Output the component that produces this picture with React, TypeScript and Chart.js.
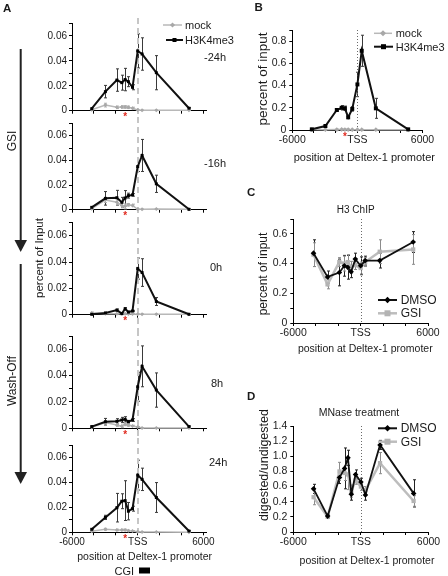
import React, { useEffect, useRef } from 'react';
import { Chart, registerables } from 'chart.js';

Chart.register(...registerables);

const FONT = '"Liberation Sans", Arial, Helvetica, sans-serif';
const TEXT = '#1a1a1a';

// ---------- data ----------
// primer positions relative to the Deltex-1 TSS (bp)
const POSITIONS = [-4200, -2950, -1900, -1450, -1150, -850, -475, 0, 400, 1700, 4680];
const TSS_POS = 0;
const ASTERISK_POS = -1150;
const X_TICKS = [-6000, -4000, -2000, 0, 2000, 4000, 6000];
const X_LABELED = [-6000, 0, 6000];
const X_LABEL_TEXT = ['-6000', 'TSS', '6000'];
const TIMEPOINTS = ['-24h', '-16h', '0h', '8h', '24h'];

// Panel A: H3K4me3 ChIP (percent of input)
const K4_M24 = [0.0016, 0.0153, 0.0246, 0.0225, 0.025, 0.0233, 0.0188, 0.048, 0.0455, 0.0305, 0.002];
const K4_M24_ERR = [0.0005, 0.005, 0.009, 0.006, 0.009, 0.004, 0.002, 0.0137, 0.013, 0.0137, 0.0005];
const MOCK_M24 = [0.0008, 0.0045, 0.0027, 0.003, 0.003, 0.0027, 0.002, 0.0005, 0.0003, 0.0003, 0.0003];
const MOCK_M24_ERR = [0.0003, 0.0015, 0.001, 0.001, 0.001, 0.001, 0.0008, 0.0002, 0.0002, 0.0002, 0.0002];

const K4_M16 = [0.0019, 0.0092, 0.0097, 0.006, 0.0095, 0.0114, 0.012, 0.035, 0.044, 0.021, 0.0003];
const K4_M16_ERR = [0.0005, 0.0055, 0.006, 0.004, 0.006, 0.002, 0.001, 0.004, 0.013, 0.007, 0.0003];
const MOCK_M16 = [0.0008, 0.0078, 0.006, 0.0035, 0.0027, 0.004, 0.0035, 0.0003, 0.0003, 0.0005, 0.0003];
const MOCK_M16_ERR = [0.0003, 0.002, 0.002, 0.002, 0.002, 0.001, 0.001, 0.0002, 0.0002, 0.0002, 0.0002];

const K4_0H = [0.0003, 0.0013, 0.0035, 0.0008, 0.0045, 0.002, 0.0028, 0.035, 0.032, 0.01, 0.0003];
const K4_0H_ERR = [0.0003, 0.0005, 0.0008, 0.0005, 0.0008, 0.0005, 0.0005, 0.008, 0.0105, 0.003, 0.0002];
const MOCK_0H = [0.0012, 0.0008, 0.0008, 0.0008, 0.0008, 0.0006, 0.0006, 0.0004, 0.0004, 0.0004, 0.0003];
const MOCK_0H_ERR = [0.0008, 0.0003, 0.0003, 0.0003, 0.0003, 0.0003, 0.0003, 0.0002, 0.0002, 0.0002, 0.0002];

const K4_8H = [0.0013, 0.005, 0.0053, 0.0063, 0.0068, 0.005, 0.0063, 0.0315, 0.047, 0.029, 0.0013];
const K4_8H_ERR = [0.0004, 0.0025, 0.002, 0.002, 0.002, 0.001, 0.001, 0.011, 0.0155, 0.013, 0.0004];
const MOCK_8H = [0.0008, 0.0043, 0.0025, 0.0015, 0.003, 0.0025, 0.0018, 0.001, 0.0003, 0.0003, 0.0003];
const MOCK_8H_ERR = [0.0003, 0.001, 0.001, 0.001, 0.001, 0.001, 0.0005, 0.0003, 0.0002, 0.0002, 0.0002];

const K4_24H = [0.0024, 0.012, 0.0198, 0.025, 0.0255, 0.017, 0.019, 0.046, 0.0426, 0.028, 0.001];
const K4_24H_ERR = [0.0005, 0.0017, 0.0115, 0.006, 0.016, 0.007, 0.002, 0.012, 0.009, 0.012, 0.0003];
const MOCK_24H = [0.0008, 0.0024, 0.0019, 0.0019, 0.0019, 0.0013, 0.001, 0.0005, 0.0003, 0.0003, 0.0001];
const MOCK_24H_ERR = [0.0003, 0.0008, 0.0006, 0.0006, 0.0006, 0.0005, 0.0004, 0.0002, 0.0002, 0.0002, 0.0001];

// Panel B
const K4_B = [0.006, 0.036, 0.18, 0.2, 0.195, 0.114, 0.19, 0.41, 0.713, 0.195, 0.006];
const K4_B_ERR = [0.003, 0.005, 0.01, 0.02, 0.02, 0.01, 0.02, 0.11, 0.14, 0.09, 0.003];
const MOCK_B = [0.004, 0.003, 0.004, 0.005, 0.004, 0.004, 0.003, 0.003, 0.003, 0.003, 0.002];
const MOCK_B_ERR = [0.003, 0.003, 0.003, 0.003, 0.003, 0.003, 0.003, 0.003, 0.003, 0.003, 0.002];

// Panel C: H3 ChIP
const H3_DMSO = [0.47, 0.31, 0.34, 0.385, 0.375, 0.345, 0.43, 0.385, 0.42, 0.42, 0.545];
const H3_DMSO_ERR = [0.09, 0.04, 0.09, 0.07, 0.08, 0.04, 0.04, 0.06, 0.03, 0.05, 0.07];
const H3_GSI = [0.46, 0.26, 0.41, 0.4, 0.41, 0.375, 0.39, 0.37, 0.41, 0.48, 0.495];
const H3_GSI_ERR = [0.08, 0.03, 0.03, 0.05, 0.05, 0.04, 0.03, 0.04, 0.03, 0.08, 0.1];

// Panel D: MNase
const MN_DMSO = [0.57, 0.21, 0.72, 0.84, 0.98, 0.5, 0.76, 0.66, 0.49, 1.15, 0.51];
const MN_DMSO_ERR = [0.06, 0.02, 0.08, 0.27, 0.1, 0.08, 0.06, 0.05, 0.07, 0.06, 0.18];
const MN_GSI = [0.46, 0.2, 0.8, 0.78, 0.76, 0.54, 0.68, 0.6, 0.55, 0.91, 0.41];
const MN_GSI_ERR = [0.1, 0.02, 0.12, 0.1, 0.2, 0.08, 0.05, 0.05, 0.05, 0.14, 0.07];

// ---------- plugins ----------
const errorBarPlugin = {
  id: 'errorBars',
  beforeDatasetsDraw(chart: any) {
    const { ctx } = chart;
    const x = chart.scales.x;
    const y = chart.scales.y;
    chart.data.datasets.forEach((ds: any) => {
      const errs = ds.errorBars;
      if (!errs) return;
      ctx.save();
      ctx.strokeStyle = ds.errorColor || '#444';
      ctx.lineWidth = 1;
      ds.data.forEach((p: any, j: number) => {
        const e = errs[j];
        if (!e) return;
        const px = Math.round(x.getPixelForValue(p.x)) + 0.5;
        const t = y.getPixelForValue(p.y + e);
        const b = y.getPixelForValue(Math.max(0, p.y - e));
        const cw = ds.capHalf ?? 1.5;
        ctx.beginPath();
        ctx.moveTo(px, t);
        ctx.lineTo(px, b);
        ctx.moveTo(px - cw, t);
        ctx.lineTo(px + cw, t);
        ctx.moveTo(px - cw, b);
        ctx.lineTo(px + cw, b);
        ctx.stroke();
      });
      ctx.restore();
    });
  },
};

const tssPlugin = {
  id: 'tss',
  beforeDatasetsDraw(chart: any, _a: any, opts: any) {
    if (!opts || !opts.style) return;
    const { ctx, chartArea } = chart;
    const px = Math.round(chart.scales.x.getPixelForValue(TSS_POS));
    ctx.save();
    if (opts.style === 'dashed') {
      ctx.strokeStyle = '#c6c6c6';
      ctx.lineWidth = 2;
      ctx.setLineDash([6, 4]);
    } else {
      ctx.strokeStyle = '#6a6a6a';
      ctx.lineWidth = 1;
      ctx.setLineDash([1, 2]);
    }
    const y0 = opts.fromTop ? 0 : chartArea.top;
    const y1 = opts.toBottom ? chart.height : chartArea.bottom;
    const xx = opts.style === 'dashed' ? px : px + 0.5;
    ctx.beginPath();
    ctx.moveTo(xx, y0);
    ctx.lineTo(xx, y1);
    ctx.stroke();
    ctx.restore();
  },
};

const asteriskPlugin = {
  id: 'asterisk',
  afterDraw(chart: any, _a: any, opts: any) {
    if (!opts || !opts.show) return;
    const { ctx, chartArea } = chart;
    const px = chart.scales.x.getPixelForValue(ASTERISK_POS);
    ctx.save();
    ctx.fillStyle = '#e02a1f';
    ctx.font = `bold 10px ${FONT}`;
    ctx.textAlign = 'center';
    ctx.textBaseline = 'middle';
    ctx.fillText('*', px, chartArea.bottom + 7);
    ctx.restore();
  },
};

// ---------- helpers ----------
function fmtTick(v: number, every: number, dec: number) {
  const k = v / every;
  if (Math.abs(k - Math.round(k)) > 1e-6) return '';
  if (Math.abs(v) < 1e-9) return '0';
  return v.toFixed(dec);
}

function series(vals: number[], errs: number[], style: any) {
  return {
    data: POSITIONS.map((x, i) => ({ x, y: vals[i] })),
    errorBars: errs,
    tension: 0,
    clip: false,
    pointBorderWidth: 0,
    pointHoverRadius: 0,
    ...style,
  };
}

const K4_STYLE = {
  borderColor: '#111',
  borderWidth: 2,
  pointStyle: 'rect',
  pointRadius: 2.1,
  pointBackgroundColor: '#000',
  pointBorderColor: '#000',
  errorColor: '#3a3a3a',
};
const MOCK_STYLE = {
  borderColor: '#b8b8b8',
  borderWidth: 1.5,
  pointStyle: 'rectRot',
  pointRadius: 2,
  pointBackgroundColor: '#a8a8a8',
  pointBorderColor: '#a8a8a8',
  errorColor: '#b0b0b0',
};
const DMSO_STYLE = {
  borderColor: '#111',
  borderWidth: 1.8,
  pointStyle: 'rectRot',
  pointRadius: 2.8,
  pointBackgroundColor: '#000',
  pointBorderColor: '#000',
  errorColor: '#222',
};
const GSI_STYLE = {
  borderColor: '#bdbdbd',
  borderWidth: 2.5,
  pointStyle: 'rect',
  pointRadius: 3,
  pointBackgroundColor: '#b3b3b3',
  pointBorderColor: '#b3b3b3',
  errorColor: '#8c8c8c',
};

type Spec = {
  xMax: number;
  yMax: number;
  yStep: number;
  yEvery: number;
  yDec: number;
  showX: boolean;
  padTop: number;
  padRight: number;
  yW: number;
  xH: number;
  tickFont: number;
  yPad: number;
  datasets: any[];
  tss: any;
  asterisk: boolean;
};

function makeConfig(s: Spec): any {
  return {
    type: 'line',
    data: { datasets: s.datasets },
    plugins: [errorBarPlugin, tssPlugin, asteriskPlugin],
    options: {
      responsive: false,
      animation: false,
      devicePixelRatio: 1,
      events: [],
      layout: { padding: { top: s.padTop, right: s.padRight, left: 0, bottom: 0 } },
      plugins: {
        legend: { display: false },
        tooltip: { enabled: false },
        tss: s.tss,
        asterisk: { show: s.asterisk },
      },
      scales: {
        x: {
          type: 'linear',
          min: -6000,
          max: s.xMax,
          afterBuildTicks: (sc: any) => {
            sc.ticks = X_TICKS.map((v) => ({ value: v }));
          },
          afterFit: (sc: any) => {
            sc.height = s.xH;
            sc.paddingLeft = 0;
            sc.paddingRight = 0;
          },
          ticks: {
            autoSkip: false,
            maxRotation: 0,
            padding: 1,
            color: TEXT,
            font: { family: FONT, size: s.tickFont },
            callback: (v: any) => {
              if (!s.showX) return '';
              const i = X_LABELED.indexOf(Number(v));
              return i >= 0 ? X_LABEL_TEXT[i] : '';
            },
          },
          grid: { display: true, drawOnChartArea: false, drawTicks: true, tickLength: 3, color: '#000', lineWidth: 1 },
          border: { display: true, color: '#000', width: 1 },
        },
        y: {
          type: 'linear',
          min: 0,
          max: s.yMax,
          afterFit: (sc: any) => {
            sc.width = s.yW;
            sc.paddingTop = 0;
            sc.paddingBottom = 0;
          },
          ticks: {
            stepSize: s.yStep,
            autoSkip: false,
            padding: s.yPad,
            color: TEXT,
            font: { family: FONT, size: s.tickFont },
            callback: (v: any) => fmtTick(Number(v), s.yEvery, s.yDec),
          },
          grid: { display: true, drawOnChartArea: false, drawTicks: true, tickLength: 3, color: '#000', lineWidth: 1 },
          border: { display: true, color: '#000', width: 1 },
        },
      },
    },
  };
}

function ChartBox({ l, t, w, h, config }: { l: number; t: number; w: number; h: number; config: any }) {
  const ref = useRef<HTMLCanvasElement>(null);
  useEffect(() => {
    const chart = new Chart(ref.current as HTMLCanvasElement, config);
    return () => chart.destroy();
  }, []);
  return (
    <canvas
      ref={ref}
      width={w}
      height={h}
      style={{ position: 'absolute', left: l, top: t, width: w, height: h }}
    />
  );
}

function Txt({
  x,
  y,
  children,
  size = 11,
  bold = false,
  rotate = false,
  align = 'center',
  color = TEXT,
}: any) {
  let transform = 'translate(-50%,-50%)';
  if (align === 'left') transform = 'translate(0,-50%)';
  if (align === 'right') transform = 'translate(-100%,-50%)';
  if (rotate) transform = 'translate(-50%,-50%) rotate(-90deg)';
  return (
    <div
      style={{
        position: 'absolute',
        left: x,
        top: y,
        transform,
        fontFamily: FONT,
        fontSize: size,
        fontWeight: bold ? 'bold' : 'normal',
        lineHeight: 1,
        whiteSpace: 'nowrap',
        color,
      }}
    >
      {children}
    </div>
  );
}

function LegendMark({ x1, x2, y, color, width, marker, size, fill }: any) {
  const cx = (x1 + x2) / 2;
  return (
    <g>
      <line x1={x1} y1={y} x2={x2} y2={y} stroke={color} strokeWidth={width} />
      {marker === 'square' ? (
        <rect x={cx - size / 2} y={y - size / 2} width={size} height={size} fill={fill} />
      ) : (
        <polygon
          points={`${cx},${y - size} ${cx + size},${y} ${cx},${y + size} ${cx - size},${y}`}
          fill={fill}
        />
      )}
    </g>
  );
}

export default function App() {
  const aPanels = [
    { t: 18, h: 99, padTop: 5.5, xH: 6.3, k4: K4_M24, k4e: K4_M24_ERR, m: MOCK_M24, me: MOCK_M24_ERR },
    { t: 117, h: 101, padTop: 6.4, xH: 8.3, k4: K4_M16, k4e: K4_M16_ERR, m: MOCK_M16, me: MOCK_M16_ERR },
    { t: 218, h: 112, padTop: 4.5, xH: 15.3, k4: K4_0H, k4e: K4_0H_ERR, m: MOCK_0H, me: MOCK_0H_ERR },
    { t: 330, h: 108, padTop: 6, xH: 9.7, k4: K4_8H, k4e: K4_8H_ERR, m: MOCK_8H, me: MOCK_8H_ERR },
    { t: 438, h: 112, padTop: 7.3, xH: 17.7, k4: K4_24H, k4e: K4_24H_ERR, m: MOCK_24H, me: MOCK_24H_ERR },
  ];
  const timeLabelPos = [
    { x: 204, y: 57 },
    { x: 204, y: 163 },
    { x: 210, y: 267 },
    { x: 211, y: 383 },
    { x: 209, y: 462 },
  ];

  const bConfig = makeConfig({
    xMax: 6000,
    yMax: 0.9,
    yStep: 0.1,
    yEvery: 0.2,
    yDec: 1,
    showX: true,
    padTop: 10,
    padRight: 20.5,
    yW: 42.3,
    xH: 20,
    tickFont: 10.5,
    yPad: 3,
    datasets: [
      series(K4_B, K4_B_ERR, { ...K4_STYLE, pointRadius: 2.8 }),
      series(MOCK_B, MOCK_B_ERR, { ...MOCK_STYLE, pointRadius: 2.4 }),
    ],
    tss: { style: 'dotted' },
    asterisk: true,
  });
  const cConfig = makeConfig({
    xMax: 6000,
    yMax: 0.7,
    yStep: 0.1,
    yEvery: 0.2,
    yDec: 1,
    showX: true,
    padTop: 10,
    padRight: 17,
    yW: 43.3,
    xH: 20,
    tickFont: 10.5,
    yPad: 3,
    datasets: [series(H3_DMSO, H3_DMSO_ERR, DMSO_STYLE), series(H3_GSI, H3_GSI_ERR, GSI_STYLE)],
    tss: { style: 'dotted' },
    asterisk: false,
  });
  const dConfig = makeConfig({
    xMax: 6000,
    yMax: 1.4,
    yStep: 0.2,
    yEvery: 0.2,
    yDec: 1,
    showX: true,
    padTop: 10,
    padRight: 16.5,
    yW: 43.3,
    xH: 20,
    tickFont: 10.5,
    yPad: 3,
    datasets: [series(MN_DMSO, MN_DMSO_ERR, DMSO_STYLE), series(MN_GSI, MN_GSI_ERR, GSI_STYLE)],
    tss: { style: 'dotted' },
    asterisk: false,
  });

  return (
    <div
      style={{
        position: 'fixed',
        left: 0,
        top: 0,
        width: 448,
        height: 576,
        background: '#fff',
        overflow: 'hidden',
      }}
    >
      {aPanels.map((p, i) => (
        <ChartBox
          key={i}
          l={20}
          t={p.t}
          w={204}
          h={p.h}
          config={makeConfig({
            xMax: 6300,
            yMax: 0.07,
            yStep: 0.01,
            yEvery: 0.02,
            yDec: 2,
            showX: i === 4,
            padTop: p.padTop,
            padRight: 17.3,
            yW: 52,
            xH: p.xH,
            tickFont: 10,
            yPad: 2,
            datasets: [series(p.k4, p.k4e, K4_STYLE), series(p.m, p.me, MOCK_STYLE)],
            tss: { style: 'dashed', fromTop: true, toBottom: i !== 4 },
            asterisk: true,
          })}
        />
      ))}
      <ChartBox l={250} t={20} w={193} h={130} config={bConfig} />
      <ChartBox l={250} t={209} w={195} h={134} config={cConfig} />
      <ChartBox l={250} t={416} w={195} h={136} config={dConfig} />

      <svg
        width={448}
        height={576}
        style={{ position: 'absolute', left: 0, top: 0, pointerEvents: 'none' }}
      >
        {/* GSI / Wash-Off arrows */}
        <line x1={20.7} y1={49} x2={20.7} y2={242} stroke="#222" strokeWidth={2} />
        <polygon points="14.5,240 27,240 20.7,252" fill="#222" />
        <line x1={20.7} y1={264} x2={20.7} y2={474} stroke="#222" strokeWidth={2} />
        <polygon points="14.5,472 27,472 20.7,484" fill="#222" />
        {/* legends */}
        <LegendMark x1={163} x2={182} y={25} color="#b8b8b8" width={1.5} marker="diamond" size={2.6} fill="#a8a8a8" />
        <LegendMark x1={166} x2={183} y={40} color="#111" width={2} marker="square" size={4} fill="#000" />
        <LegendMark x1={374} x2={392} y={33.3} color="#b8b8b8" width={1.5} marker="diamond" size={3} fill="#a8a8a8" />
        <LegendMark x1={374} x2={393} y={46.7} color="#111" width={2} marker="square" size={5} fill="#000" />
        <LegendMark x1={378} x2={397} y={300} color="#111" width={2} marker="diamond" size={3.2} fill="#000" />
        <LegendMark x1={378} x2={397} y={313.3} color="#bdbdbd" width={2.5} marker="square" size={6} fill="#b3b3b3" />
        <LegendMark x1={378} x2={397} y={428.3} color="#111" width={2} marker="diamond" size={3.2} fill="#000" />
        <LegendMark x1={378} x2={397} y={441.7} color="#bdbdbd" width={2.5} marker="square" size={6} fill="#b3b3b3" />
        {/* CGI bar */}
        <rect x={139} y={567.5} width={11} height={6} fill="#000" />
      </svg>

      {/* panel letters */}
      <Txt x={7.2} y={8.9} size={11.5} bold>A</Txt>
      <Txt x={258.7} y={7.9} size={11.5} bold>B</Txt>
      <Txt x={251.2} y={192.9} size={11.5} bold>C</Txt>
      <Txt x={251.2} y={397.2} size={11.5} bold>D</Txt>

      {/* panel A texts */}
      <Txt x={185} y={25} size={11} align="left">mock</Txt>
      <Txt x={185} y={40} size={11} align="left">H3K4me3</Txt>
      {TIMEPOINTS.map((tp, i) => (
        <Txt key={tp} x={timeLabelPos[i].x} y={timeLabelPos[i].y} size={11} align="left">
          {tp}
        </Txt>
      ))}
      <Txt x={12} y={141} size={12} rotate>GSI</Txt>
      <Txt x={12} y={381} size={12} rotate>Wash-Off</Txt>
      <Txt x={39.5} y={258} size={11.5} rotate>percent of Input</Txt>
      <Txt x={144.7} y={555.7} size={10.5}>position at Deltex-1 promoter</Txt>
      <Txt x={134} y={570.7} size={11} align="right">CGI</Txt>

      {/* panel B texts */}
      <Txt x={395.7} y={33.3} size={11} align="left">mock</Txt>
      <Txt x={395.7} y={46.7} size={11} align="left">H3K4me3</Txt>
      <Txt x={263.3} y={79} size={13.5} rotate>percent of input</Txt>
      <Txt x={364.3} y={157} size={11}>position at Deltex-1 promoter</Txt>

      {/* panel C texts */}
      <Txt x={355.7} y={210} size={10}>H3 ChIP</Txt>
      <Txt x={263.3} y={274} size={12} rotate>percent of input</Txt>
      <Txt x={365.3} y={348.3} size={10.5}>position at Deltex-1 promoter</Txt>
      <Txt x={400.7} y={300} size={12} align="left">DMSO</Txt>
      <Txt x={400.7} y={313.3} size={12} align="left">GSI</Txt>

      {/* panel D texts */}
      <Txt x={359} y={411.7} size={10.5}>MNase treatment</Txt>
      <Txt x={264} y={464.7} size={12.5} rotate>digested/undigested</Txt>
      <Txt x={367} y={560} size={10.5}>position at Deltex-1 promoter</Txt>
      <Txt x={400.7} y={428.3} size={12} align="left">DMSO</Txt>
      <Txt x={400.7} y={441.7} size={12} align="left">GSI</Txt>
    </div>
  );
}
